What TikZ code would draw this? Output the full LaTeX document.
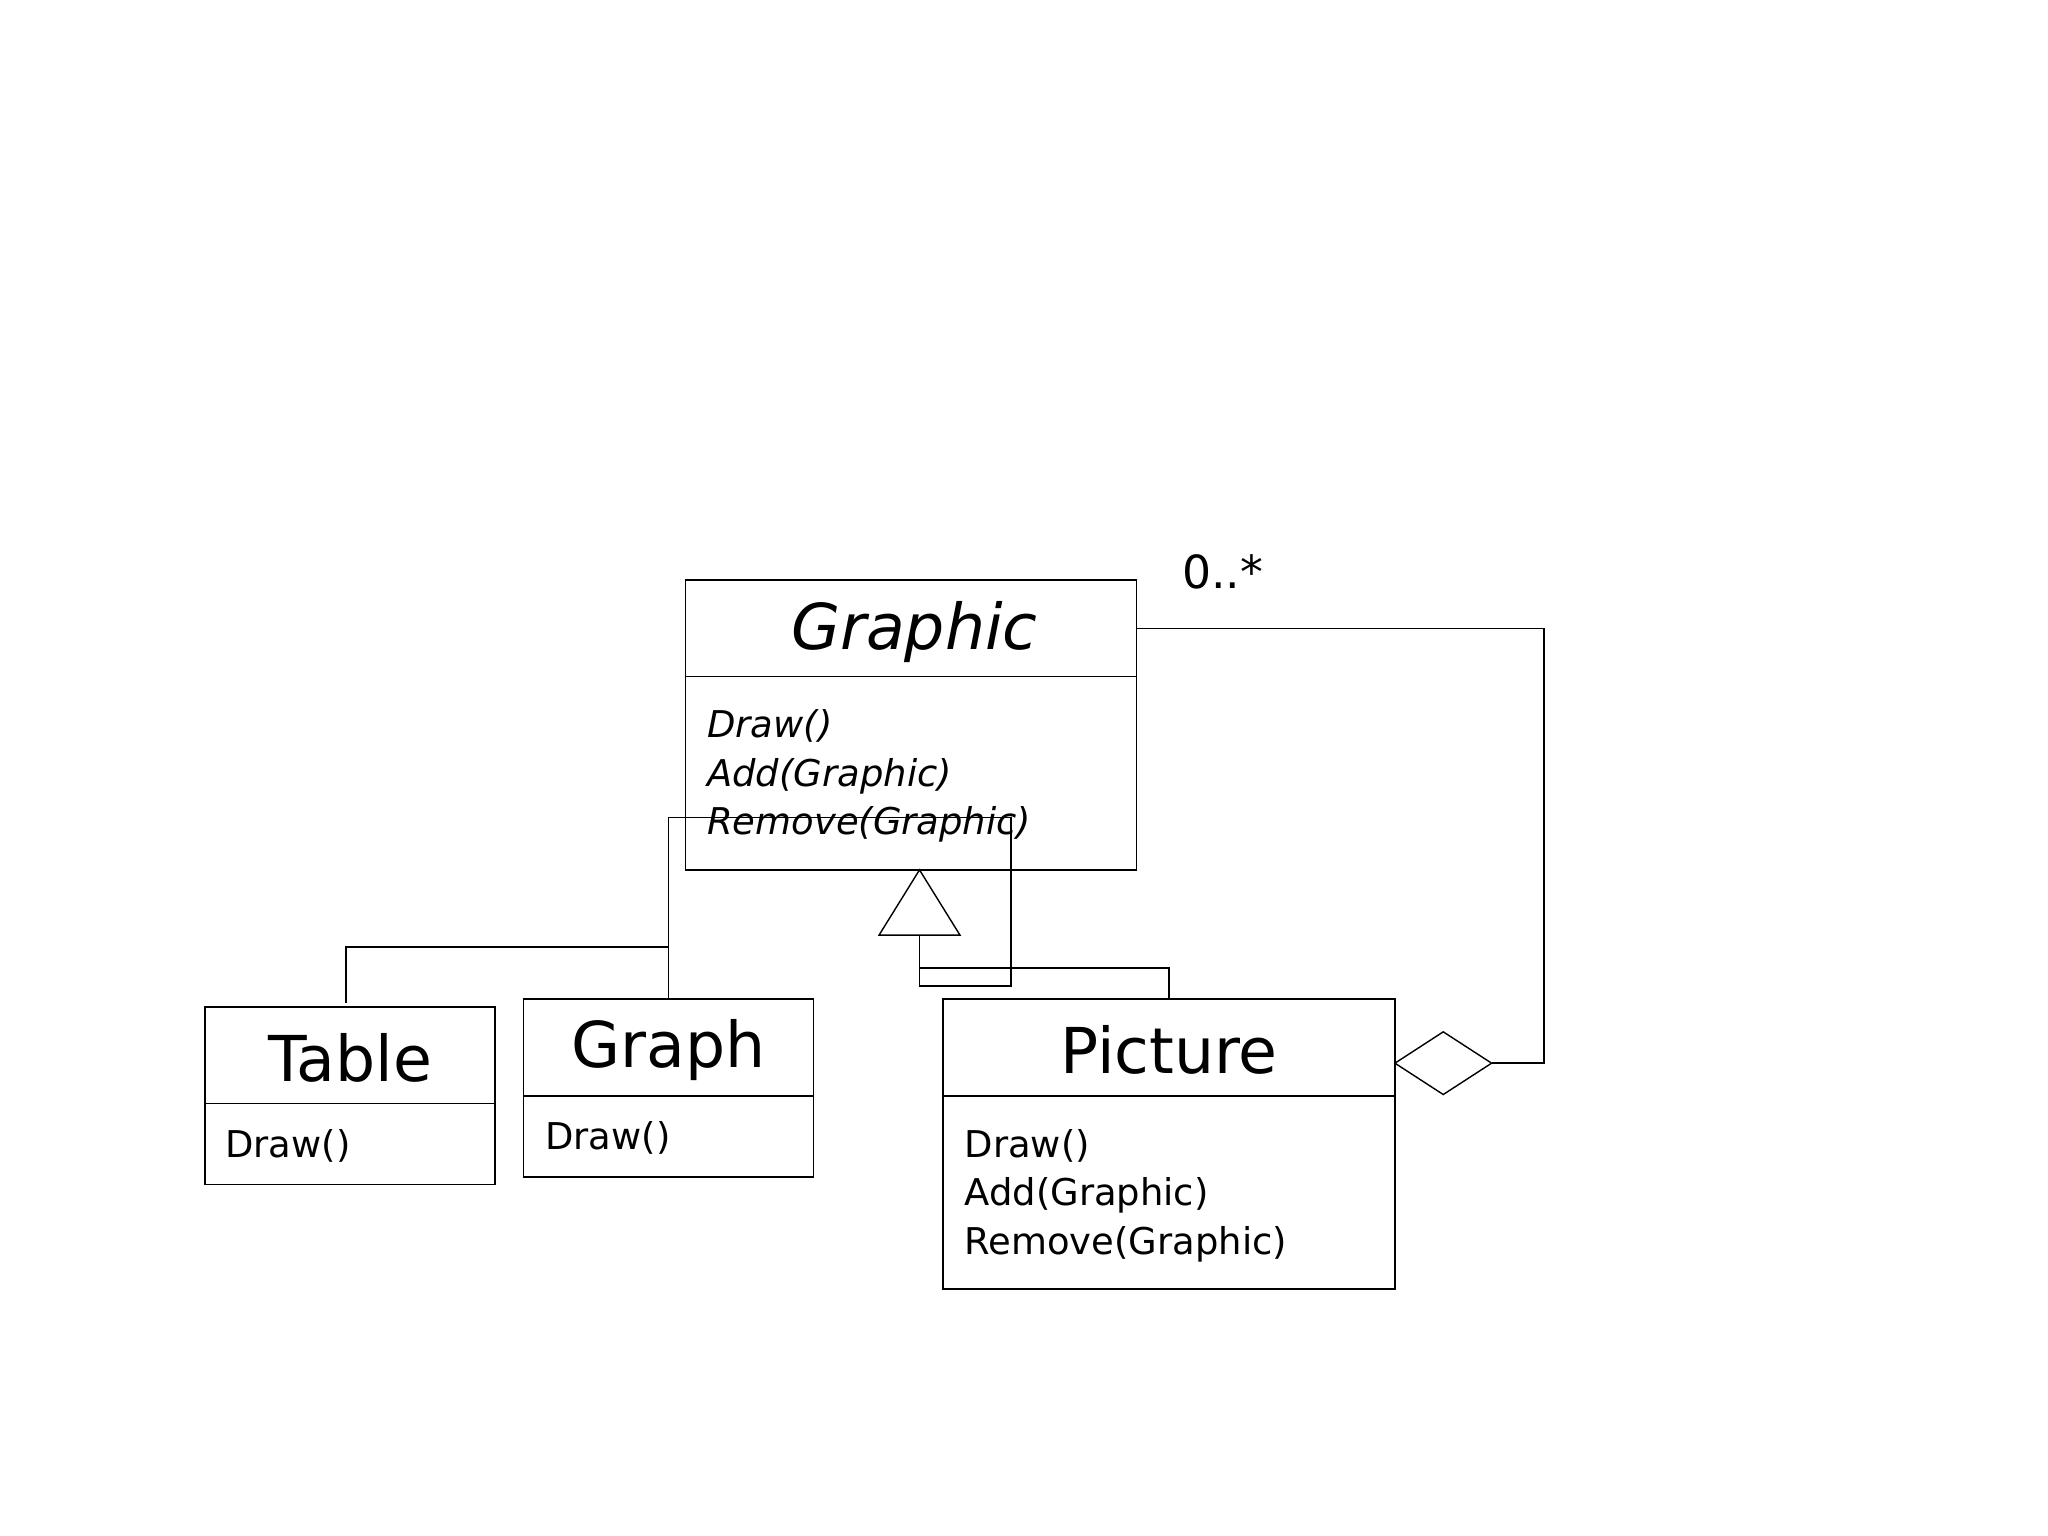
\documentclass[tikz,border=0pt]{standalone}
\usepackage{fontspec}
\setmainfont{DejaVu Sans}
\usetikzlibrary{shapes.geometric}
\tikzstyle{title} = [font=\fontsize{18}{20}\selectfont, inner sep=0pt]
\tikzstyle{ops} = [font=\fontsize{10.5}{13}\selectfont, align=left, anchor=north west, inner sep=0pt]
\tikzstyle{box} = [draw=black, thin]
\tikzstyle{link} = [thin]

\begin{document}
\begin{tikzpicture}[x=0.01306cm, y=-0.01306cm]
\useasboundingbox (0,0) rectangle (1568,1176);
% classes
\draw [box] (525,444) rectangle (870,666);
\draw [box] (525,518) -- (870,518);
\node (graphic) [title, font=\fontsize{18}{20}\selectfont\itshape] at (700,484) {Graphic};
\node (graphicops) [ops, font=\fontsize{10.5}{13.8}\selectfont\itshape] at (541,543) {Draw()\\Add(Graphic)\\Remove(Graphic)};
\draw [box] (157,771) rectangle (379,907);
\draw [box] (157,845) -- (379,845);
\node (table) [title] at (268,810) {Table};
\node (tableops) [ops] at (172,864) {Draw()};
\draw [box] (401,765) rectangle (623,901);
\draw [box] (401,839) -- (623,839);
\node (graph) [title] at (512,804) {Graph};
\node (graphops) [ops] at (417,858) {Draw()};
\draw [box] (722,765) rectangle (1068,987);
\draw [box] (722,839) -- (1068,839);
\node (picture) [title] at (895,804) {Picture};
\node (pictureops) [ops, font=\fontsize{10.5}{13.8}\selectfont] at (738,864) {Draw()\\Add(Graphic)\\Remove(Graphic)};
\node (mult) [font=\fontsize{13}{15}\selectfont, inner sep=0pt] at (936,438) {0..*};
% generalization
\coordinate (apex) at (704,666);
\draw [link] (apex) -- (673,716) -- (735,716) -- cycle;
\coordinate (tri) at (704,716);
\coordinate (tabletop) at (265,768);
\coordinate (graphtop) at (512,765);
\coordinate (picturetop) at (895,765);
\draw [link] (tabletop) |- (512,725);
\draw [link] (graphtop) -- (512,626) -| (774,755) -| (tri);
\draw [link] (picturetop) |- (704,741);
% aggregation
\coordinate (dia) at (1068,814);
\draw [link, fill=white] (dia) -- (1105,790) -- (1142,814) -- (1105,838) -- cycle;
\coordinate (graphicright) at (870,481);
\draw [link] (1142,814) -- (1182,814) |- (graphicright);
\end{tikzpicture}
\end{document}
